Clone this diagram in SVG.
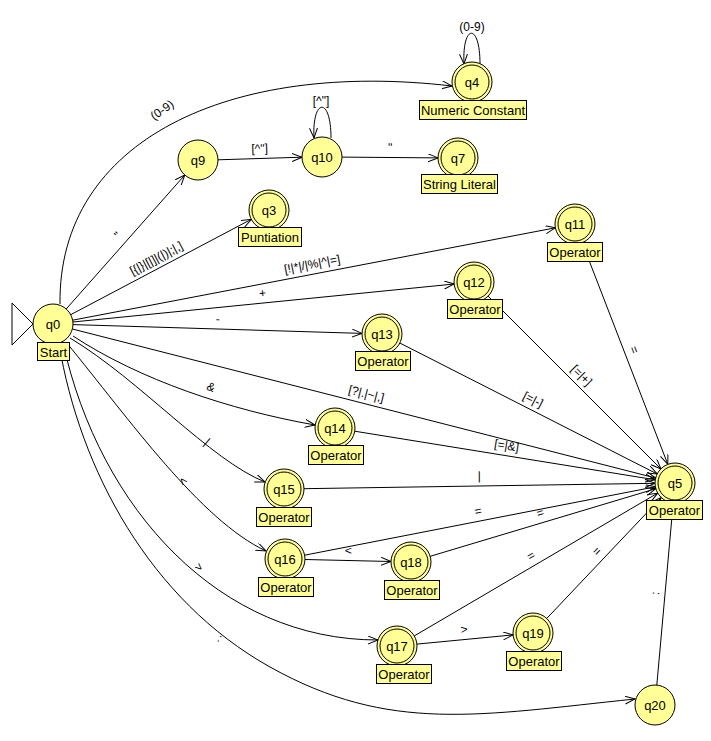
<svg xmlns="http://www.w3.org/2000/svg" width="711" height="741" viewBox="0 0 711 741">
<style>
.e{fill:none;stroke:#000;stroke-width:1;marker-end:url(#ah)}
.st{fill:#ffff96;stroke:#000;stroke-width:1}
.in{fill:none;stroke:#000;stroke-width:1}
.box{fill:#ffff96;stroke:#000;stroke-width:1}
.nt{font-family:"Liberation Sans",Arial,sans-serif;font-size:13px;text-anchor:middle;fill:#000}
.lt{font-family:"Liberation Sans",Arial,sans-serif;font-size:12px;text-anchor:middle;fill:#000}
</style>
<defs>
<marker id="ah" markerWidth="12" markerHeight="10" refX="10" refY="4" orient="auto" markerUnits="userSpaceOnUse">
<path d="M0,0 L10,4 L0,8" fill="none" stroke="#000" stroke-width="1"/>
</marker>
</defs>
<rect width="711" height="741" fill="#fff"/>
<g id="connectors">
<path class="e" d="M60,304 C58,140 230,60 452,86"/>
<path class="e" d="M480,64 C480,22 462,24 464,64"/>
<path class="e" d="M331,138 C331,96 312,98 314,138"/>
<path class="e" d="M66.2,309 L184.8,175"/>
<path class="e" d="M218,159.8 L302,157.2"/>
<path class="e" d="M342,157.1 L438,157.9"/>
<path class="e" d="M70.7,314.7 L251.3,219.3"/>
<path class="e" d="M72.6,320.2 L555.4,227.8"/>
<path class="e" d="M72.9,322 L454.1,284"/>
<path class="e" d="M73,324.6 L362,333.4"/>
<path class="e" d="M72.4,329 L655.6,478"/>
<path class="e" d="M73,336 C140,380 230,410 315,425"/>
<path class="e" d="M70,338 C140,380 210,460 265,482"/>
<path class="e" d="M66,342 C130,420 200,520 266,551"/>
<path class="e" d="M63,343 C100,510 220,640 378,640"/>
<path class="e" d="M59,344 C80,470 150,600 270,667 C390,734 480,715 635,699"/>
<path class="e" d="M582.2,242.7 L667.8,464.3"/>
<path class="e" d="M488,296 L661,469"/>
<path class="e" d="M399.8,343 L657.2,474"/>
<path class="e" d="M354.7,431.2 L655.3,479.8"/>
<path class="e" d="M304,488.7 L655,483.3"/>
<path class="e" d="M304.6,555.2 L655.4,486.8"/>
<path class="e" d="M430.2,556.3 L655.8,488.7"/>
<path class="e" d="M414.3,635.9 L657.7,493.1"/>
<path class="e" d="M546.7,618.5 L661.3,497.5"/>
<path class="e" d="M656.8,685 L673.2,503.1"/>
<path class="e" d="M305,559.5 L391,561.5"/>
<path class="e" d="M416.9,644.1 L513.1,634.9"/>
<g class="lt">
<text transform="translate(162,110) rotate(-35)" y="4">(0-9)</text>
<text x="472" y="31">(0-9)</text>
<text x="321" y="105">[^"]</text>
<text transform="translate(125.5,242) rotate(-48.5)" y="-6">"</text>
<text transform="translate(260,158.5) rotate(-1.8)" y="-6">[^"]</text>
<text transform="translate(390,157.5) rotate(0.5)" y="-6">"</text>
<text transform="translate(161,267) rotate(-27.8)" y="-6">[{|}|[|]|(|)|;|,]</text>
<text transform="translate(314,274) rotate(-10.8)" y="-6">[!|*|/|%|^|=]</text>
<text transform="translate(263.5,303) rotate(-5.7)" y="-6">+</text>
<text transform="translate(217.5,329) rotate(1.5)" y="-6">-</text>
<text transform="translate(364,403.5) rotate(14.3)" y="-6">[?|.|~|,]</text>
<text transform="translate(211,387) rotate(22)" y="4">&amp;</text>
<text transform="translate(207,442) rotate(40)" y="4">|</text>
<text transform="translate(183,481) rotate(50)" y="4">&lt;</text>
<text transform="translate(199,567) rotate(42)" y="4">&gt;</text>
<text transform="translate(220,638) rotate(30)" y="4">:</text>
<text transform="translate(625,353.5) rotate(68.9)" y="-6">=</text>
<text transform="translate(574.5,382.5) rotate(45)" y="-6">[=|+]</text>
<text transform="translate(528.5,408.5) rotate(27)" y="-6">[=|-]</text>
<text transform="translate(505,455.5) rotate(9.2)" y="-6">[=|&amp;]</text>
<text transform="translate(479.5,486) rotate(-0.9)" y="-6">|</text>
<text transform="translate(480,521) rotate(-11)" y="-6">=</text>
<text transform="translate(543,522.5) rotate(-16.7)" y="-6">=</text>
<text transform="translate(536,564.5) rotate(-30.4)" y="-6">=</text>
<text transform="translate(604,558) rotate(-46.6)" y="-6">=</text>
<text transform="translate(665,594) rotate(-84.9)" y="-6">:</text>
<text transform="translate(348,560.5) rotate(1.4)" y="-6">&lt;</text>
<text transform="translate(465,639.5) rotate(-5.5)" y="-6">&gt;</text>
</g>
</g>
<g id="q0">
<polygon points="12,303 33,324 12,345" fill="#fff" stroke="#000"/>
<circle class="st" cx="53" cy="324" r="20"/>
<text class="nt" x="53" y="329">q0</text>
<rect class="box" x="37.5" y="342.5" width="32" height="18"/>
<text class="nt" x="53.5" y="356.5">Start</text>
</g>
<g id="q9">
<circle class="st" cx="198" cy="160" r="20"/>
<text class="nt" x="198" y="165">q9</text>
</g>
<g id="q10">
<circle class="st" cx="322" cy="157" r="20"/>
<text class="nt" x="322" y="162">q10</text>
</g>
<g id="q20">
<circle class="st" cx="655" cy="705" r="20"/>
<text class="nt" x="655" y="710">q20</text>
</g>
<g id="q4">
<circle class="st" cx="472" cy="82" r="20"/>
<circle class="in" cx="472" cy="82" r="17"/>
<text class="nt" x="472" y="87">q4</text>
<rect class="box" x="419.5" y="100.5" width="107" height="19"/>
<text class="nt" x="473" y="115">Numeric Constant</text>
</g>
<g id="q7">
<circle class="st" cx="458" cy="158" r="20"/>
<circle class="in" cx="458" cy="158" r="17"/>
<text class="nt" x="458" y="163">q7</text>
<rect class="box" x="421.5" y="174.5" width="76" height="19"/>
<text class="nt" x="459.5" y="189">String Literal</text>
</g>
<g id="q3">
<circle class="st" cx="269" cy="210" r="20"/>
<circle class="in" cx="269" cy="210" r="17"/>
<text class="nt" x="269" y="215">q3</text>
<rect class="box" x="238.5" y="227.5" width="63" height="19"/>
<text class="nt" x="270" y="242">Puntiation</text>
</g>
<g id="q11">
<circle class="st" cx="575" cy="224" r="20"/>
<circle class="in" cx="575" cy="224" r="17"/>
<text class="nt" x="575" y="229">q11</text>
<rect class="box" x="547.5" y="242.5" width="55" height="19"/>
<text class="nt" x="575" y="257">Operator</text>
</g>
<g id="q12">
<circle class="st" cx="474" cy="282" r="20"/>
<circle class="in" cx="474" cy="282" r="17"/>
<text class="nt" x="474" y="287">q12</text>
<rect class="box" x="447.5" y="299.5" width="55" height="19"/>
<text class="nt" x="475" y="314">Operator</text>
</g>
<g id="q13">
<circle class="st" cx="382" cy="334" r="20"/>
<circle class="in" cx="382" cy="334" r="17"/>
<text class="nt" x="382" y="339">q13</text>
<rect class="box" x="355.5" y="351.5" width="55" height="19"/>
<text class="nt" x="383" y="366">Operator</text>
</g>
<g id="q14">
<circle class="st" cx="335" cy="428" r="20"/>
<circle class="in" cx="335" cy="428" r="17"/>
<text class="nt" x="335" y="433">q14</text>
<rect class="box" x="308.5" y="445.5" width="55" height="19"/>
<text class="nt" x="336" y="460">Operator</text>
</g>
<g id="q15">
<circle class="st" cx="284" cy="489" r="20"/>
<circle class="in" cx="284" cy="489" r="17"/>
<text class="nt" x="284" y="494">q15</text>
<rect class="box" x="256.5" y="507.5" width="55" height="19"/>
<text class="nt" x="284" y="522">Operator</text>
</g>
<g id="q16">
<circle class="st" cx="285" cy="559" r="20"/>
<circle class="in" cx="285" cy="559" r="17"/>
<text class="nt" x="285" y="564">q16</text>
<rect class="box" x="258.5" y="577.5" width="55" height="19"/>
<text class="nt" x="286" y="592">Operator</text>
</g>
<g id="q18">
<circle class="st" cx="411" cy="562" r="20"/>
<circle class="in" cx="411" cy="562" r="17"/>
<text class="nt" x="411" y="567">q18</text>
<rect class="box" x="384.5" y="580.5" width="55" height="19"/>
<text class="nt" x="412" y="595">Operator</text>
</g>
<g id="q17">
<circle class="st" cx="397" cy="646" r="20"/>
<circle class="in" cx="397" cy="646" r="17"/>
<text class="nt" x="397" y="651">q17</text>
<rect class="box" x="376.5" y="664.5" width="55" height="19"/>
<text class="nt" x="404" y="679">Operator</text>
</g>
<g id="q19">
<circle class="st" cx="533" cy="633" r="20"/>
<circle class="in" cx="533" cy="633" r="17"/>
<text class="nt" x="533" y="638">q19</text>
<rect class="box" x="506.5" y="651.5" width="55" height="19"/>
<text class="nt" x="534" y="666">Operator</text>
</g>
<g id="q5">
<circle class="st" cx="675" cy="483" r="20"/>
<circle class="in" cx="675" cy="483" r="17"/>
<text class="nt" x="675" y="488">q5</text>
<rect class="box" x="646.5" y="500.5" width="56" height="19"/>
<text class="nt" x="674.5" y="515">Operator</text>
</g>
</svg>
